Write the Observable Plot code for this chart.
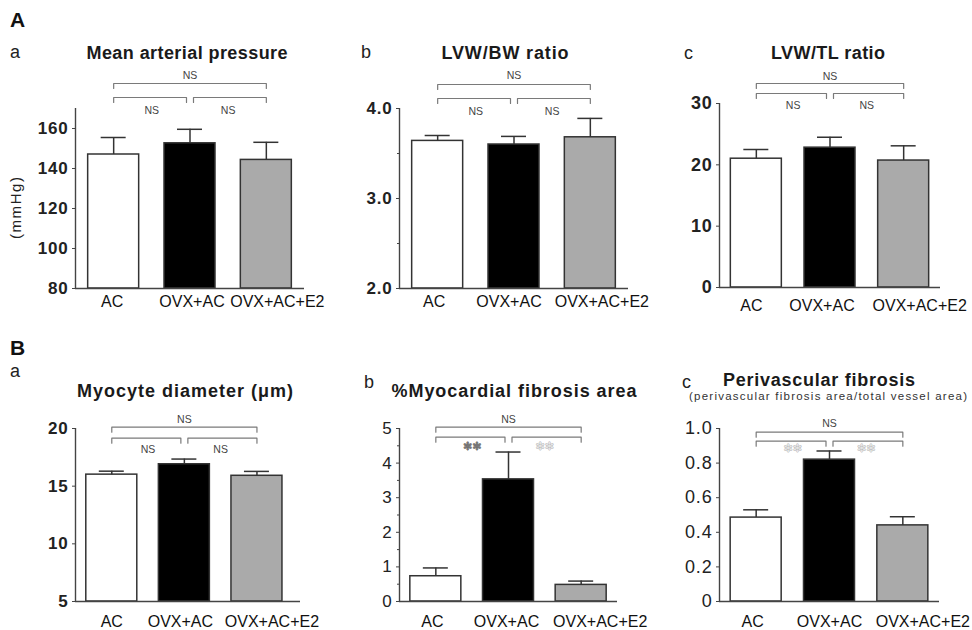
<!DOCTYPE html>
<html>
<head>
<meta charset="utf-8">
<script src="https://cdn.jsdelivr.net/npm/d3@7"></script>
<script src="https://cdn.jsdelivr.net/npm/@observablehq/plot@0.6"></script>
<style>
  body { margin: 0; background: #fff; }
  #fig { position: relative; width: 972px; height: 630px; overflow: hidden; background: #fff;
         font-family: "Liberation Sans", Arial, sans-serif; }
  #fig svg { position: absolute; overflow: visible; }
</style>
</head>
<body>
<div id="fig"></div>
<script>
// ---------- data ----------
const groups = ["AC", "OVX+AC", "OVX+AC+E2"];
const fills = ["#ffffff", "#000000", "#aaaaaa"];

// A-a Mean arterial pressure (mmHg)
const mapMean = [147, 152.6, 144.3];
const mapSem = [8.5, 7.0, 8.8];
const mapTicks = [80, 100, 120, 140, 160];
const mapSig = ["NS", "NS", "NS"];

// A-b LVW/BW ratio
const lvwbwMean = [3.64, 3.60, 3.68];
const lvwbwSem = [0.06, 0.09, 0.21];
const lvwbwTicks = [2, 3, 4];
const lvwbwMinor = [2.5, 3.5];
const lvwbwSig = ["NS", "NS", "NS"];

// A-c LVW/TL ratio
const lvwtlMean = [21.0, 22.8, 20.7];
const lvwtlSem = [1.5, 1.7, 2.4];
const lvwtlTicks = [0, 10, 20, 30];
const lvwtlSig = ["NS", "NS", "NS"];

// B-a Myocyte diameter (um)
const myoMean = [16.0, 16.9, 15.9];
const myoSem = [0.3, 0.45, 0.38];
const myoTicks = [5, 10, 15, 20];
const myoSig = ["NS", "NS", "NS"];

// B-b %Myocardial fibrosis area
const fibMean = [0.73, 3.53, 0.48];
const fibSem = [0.24, 0.79, 0.11];
const fibTicks = [0, 1, 2, 3, 4, 5];
const fibMinor = [0.5, 1.5, 2.5, 3.5, 4.5];
const fibSig = ["NS", "**", "**"];

// B-c Perivascular fibrosis
const periMean = [0.485, 0.82, 0.44];
const periSem = [0.045, 0.05, 0.05];
const periTicks = [0, 0.2, 0.4, 0.6, 0.8, 1.0];
const periSig = ["NS", "**", "**"];

// text
const sectionLetters = ["A", "B"];
const panelLetters = ["a", "b", "c", "a", "b", "c"];
const titles = ["Mean arterial pressure", "LVW/BW ratio", "LVW/TL ratio",
                "Myocyte diameter (\u03bcm)", "%Myocardial fibrosis area", "Perivascular fibrosis"];
const subtitleBc = "(perivascular fibrosis area/total vessel area)";
const yLabelAa = "(mmHg)";

// ---------- layout ----------
const fig = d3.select("#fig");
const W = 324;
const fmtInt = d3.format("d"), fmt1 = d3.format(".1f");

const panels = [
  {left: 0, top: 0, h: 310, mean: mapMean, sem: mapSem, yDomain: [80, 170], ticks: mapTicks, minor: [], fmt: fmtInt,
   sig: mapSig, ml: 75, mr: 20, mt: 108, mb: 22, xDomain: [-0.5, 2.5],
   br: {top: 25, low: 11, nsTop: 30, nsLow: -5}, bold: true, tfs: 17, labDy: 18, labDx: [-1.5, 2, 11]},
  {left: 324, top: 0, h: 310, mean: lvwbwMean, sem: lvwbwSem, yDomain: [2, 4], ticks: lvwbwTicks, minor: lvwbwMinor, fmt: fmt1,
   sig: lvwbwSig, ml: 75, mr: 20, mt: 108, mb: 22, xDomain: [-0.5, 2.5],
   br: {top: 24, low: 10, nsTop: 30, nsLow: -6}, bold: true, tfs: 17, labDy: 18, labDx: [-3.5, -5, 11.5]},
  {left: 648, top: 0, h: 310, mean: lvwtlMean, sem: lvwtlSem, yDomain: [0, 30], ticks: lvwtlTicks, minor: [], fmt: fmtInt,
   sig: lvwtlSig, ml: 71, mr: 32, mt: 103, mb: 23, xDomain: [-0.5, 2.5],
   br: {top: 20, low: 10, nsTop: 24, nsLow: -5}, bold: true, tfs: 18, labDy: 23, labDx: [-5, -8, 16]},
  {left: 0, top: 310, h: 320, mean: myoMean, sem: myoSem, yDomain: [5, 20], ticks: myoTicks, minor: [], fmt: fmtInt,
   sig: myoSig, ml: 75, mr: 24, mt: 118, mb: 29, xDomain: [-0.5, 2.6],
   br: {top: 1.3, low: -9.7, nsTop: 6, nsLow: -24}, bold: true, tfs: 17, labDy: 25, labDx: [0, -4, 15]},
  {left: 324, top: 310, h: 320, mean: fibMean, sem: fibSem, yDomain: [0, 5], ticks: fibTicks, minor: fibMinor, fmt: fmtInt,
   sig: fibSig, ml: 75, mr: 31, mt: 118, mb: 29, xDomain: [-0.5, 2.5],
   br: {top: 1.3, low: -8.7, nsTop: 5.3, nsLow: -18}, bold: false, tfs: 17, labDy: 25, labDx: [-3.5, -2, 19],
   starFill: ["#777", "#e6e6e6"], starStroke: ["#555", "#999"]},
  {left: 648, top: 310, h: 320, mean: periMean, sem: periSem, yDomain: [0, 1], ticks: periTicks, minor: [],
   fmt: d => d === 0 ? "0" : fmt1(d),
   sig: periSig, ml: 71, mr: 33, mt: 118, mb: 29, xDomain: [-0.5, 2.5],
   br: {top: -3.7, low: -12.7, nsTop: 1.3, nsLow: -20}, bold: false, tfs: 18, labDy: 25, labDx: [-3.5, 0, 20],
   starFill: ["#e6e6e6", "#e6e6e6"], starStroke: ["#999", "#999"]}
];

function drawPanel(p) {
  const rows = groups.map((g, i) => ({g, i, m: p.mean[i], e: p.mean[i] + p.sem[i]}));
  const innerH = p.h - p.mt - p.mb;
  const innerW = W - p.ml - p.mr;
  const uy = (p.yDomain[1] - p.yDomain[0]) / innerH;   // data units per pixel (y)
  const ux = (p.xDomain[1] - p.xDomain[0]) / innerW;   // data units per pixel (x)
  const Y = px => p.yDomain[1] + px * uy;              // px above top of y axis
  const barHalf = 25.5 * ux, capHalf = 12.5 * ux, gap = 3.5 * ux, tk = 5;
  const b = p.br;
  const seg = (id, x1, x2, py) => [
    {id, x: x1, y: Y(py - tk)}, {id, x: x1, y: Y(py)}, {id, x: x2, y: Y(py)}, {id, x: x2, y: Y(py - tk)}];
  const brk = [...seg("t", 0, 2, b.top), ...seg("l", 0, 1 - gap, b.low), ...seg("r", 1 + gap, 2, b.low)];
  const sigRows = [{x: 1, t: p.sig[0], k: 0}, {x: 0.5, t: p.sig[1], k: 1}, {x: 1.5, t: p.sig[2], k: 2}];
  const nsRows = sigRows.filter(d => d.t === "NS").map(d => ({...d, y: Y(d.k === 0 ? b.nsTop : b.nsLow)}));
  const starRows = sigRows.filter(d => d.t !== "NS").map((d, j) => ({...d, y: Y(b.nsLow), j}));

  const marks = [
    Plot.rectY(rows, {x1: d => d.i - barHalf, x2: d => d.i + barHalf, y1: () => p.yDomain[0], y2: "m",
      fill: d => fills[d.i], stroke: "#333", strokeWidth: 1.5}),
    Plot.ruleX(rows, {x: "i", y1: "m", y2: "e", stroke: "#333", strokeWidth: 1.5}),
    Plot.ruleY(rows, {y: "e", x1: d => d.i - capHalf, x2: d => d.i + capHalf, stroke: "#333", strokeWidth: 1.5}),
    Plot.ruleX([p.xDomain[0]], {stroke: "#444", strokeWidth: 1.4}),
    Plot.ruleY([p.yDomain[0]], {stroke: "#444", strokeWidth: 1.4}),
    Plot.axisY({ticks: p.ticks, tickFormat: p.fmt, tickSize: 3, tickPadding: 4, label: null,
      stroke: "#444", fill: "#222", fontSize: p.tfs}),
    Plot.line(brk, {x: "x", y: "y", z: "id", stroke: "#7a7a7a", strokeWidth: 1.2}),
    Plot.text(nsRows, {x: "x", y: "y", text: "t", lineAnchor: "bottom", fontSize: 10.5, fill: "#444", ariaLabel: "ns"}),
    ...groups.map((g, i) => Plot.text([rows[i]], {x: "i", y: () => p.yDomain[0], text: "g", dx: p.labDx[i], dy: p.labDy,
      lineAnchor: "bottom", fontSize: 16, fill: "#111", ariaLabel: "xlab"}))
  ];
  if (p.minor.length) marks.push(Plot.axisY({ticks: p.minor, tickFormat: () => "", tickSize: 2, label: null, stroke: "#444"}));
  if (starRows.length) {
    starRows.forEach(s => marks.push(Plot.text([s], {x: "x", y: "y", text: () => "\u273b\u273b", lineAnchor: "middle",
      fontSize: 11, fontFamily: "DejaVu Sans", fill: p.starFill[s.j], stroke: p.starStroke[s.j], strokeWidth: 0.6, ariaLabel: "star"})));
  }

  const svg = Plot.plot({
    width: W, height: p.h,
    marginLeft: p.ml, marginRight: p.mr, marginTop: p.mt, marginBottom: p.mb,
    x: {domain: p.xDomain, axis: null},
    y: {domain: p.yDomain},
    color: {type: "identity"},
    style: {fontFamily: "'Liberation Sans', Arial, sans-serif", background: "transparent", overflow: "visible", color: "#222"},
    marks
  });
  const s = d3.select(svg);
  s.style("left", p.left + "px").style("top", p.top + "px");
  s.selectAll('g[aria-label="xlab"]').style("letter-spacing", "0.5px");
  s.selectAll('g[aria-label="ns"]').style("letter-spacing", "0.3px");
  s.selectAll('g[aria-label="y-axis tick label"]').style("letter-spacing", "0.8px")
    .style("font-weight", p.bold ? "bold" : "normal").style("font-size", p.tfs + "px");
  fig.node().appendChild(svg);
}

panels.forEach(drawPanel);

// ---------- overlay text (letters, titles, y label) ----------
const ov = fig.append("svg").attr("width", 972).attr("height", 630).style("left", "0px").style("top", "0px")
  .style("pointer-events", "none").style("font-family", "'Liberation Sans', Arial, sans-serif");

const secPos = [[10, 27], [10, 355]];
sectionLetters.forEach((t, i) => ov.append("text").attr("x", secPos[i][0]).attr("y", secPos[i][1])
  .attr("font-size", 21).attr("font-weight", "bold").attr("fill", "#111").text(t));

const letPos = [[10, 58], [361, 58], [684, 59], [10, 377], [364, 388], [682, 388]];
panelLetters.forEach((t, i) => ov.append("text").attr("x", letPos[i][0]).attr("y", letPos[i][1])
  .attr("font-size", 18).attr("fill", "#222").text(t));

const titlePos = [[187, 59, 201], [505, 59, 127], [828, 59, 114], [185, 397, 216], [514, 397, 245], [819, 386, 192]];
titles.forEach((t, i) => ov.append("text").attr("x", titlePos[i][0]).attr("y", titlePos[i][1])
  .attr("text-anchor", "middle").attr("font-size", 18).attr("font-weight", "bold").attr("fill", "#1a1a1a")
  .attr("textLength", titlePos[i][2]).attr("lengthAdjust", "spacing").text(t));

ov.append("text").attr("x", 828).attr("y", 400).attr("text-anchor", "middle").attr("font-size", 11.5)
  .attr("fill", "#333").attr("textLength", 278).attr("lengthAdjust", "spacing").text(subtitleBc);

ov.append("text").attr("transform", "translate(21,208) rotate(-90)").attr("text-anchor", "middle")
  .attr("font-size", 15).attr("fill", "#222").attr("textLength", 62).attr("lengthAdjust", "spacing").text(yLabelAa);
</script>
</body>
</html>
